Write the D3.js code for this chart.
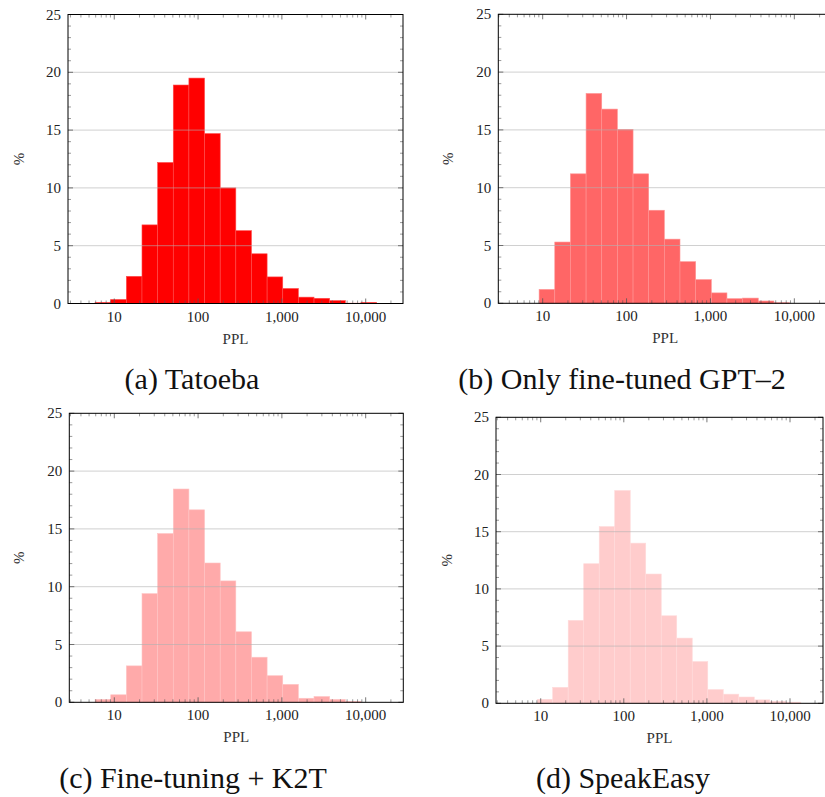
<!DOCTYPE html>
<html><head><meta charset="utf-8">
<script src="https://cdn.jsdelivr.net/npm/d3@7"></script>
<style>
html,body{margin:0;padding:0;background:#fff;}
text{font-family:"Liberation Serif","Times New Roman",serif;}
</style></head>
<body><svg id="c" width="825" height="797"></svg>
<script>
// Histogram bin edges (PPL, log-spaced)
const binEdges = [5.90, 9.07, 13.94, 21.42, 32.92, 50.58, 77.73, 119.5, 183.6, 282.1, 433.5, 666.2, 1024, 1573, 2418, 3715, 5710, 8774, 13485];
// Percent of sentences per bin
const tatoeba   = [0.1, 0.35, 2.35, 6.8, 12.2, 18.9, 19.5, 14.7, 10.0, 6.3, 4.3, 2.3, 1.3, 0.55, 0.45, 0.25, 0.03, 0.1];
const gpt2Only  = [0, 1.2, 5.3, 11.2, 18.15, 16.8, 15.05, 11.2, 8.05, 5.55, 3.6, 2.05, 0.9, 0.4, 0.45, 0.2, 0.05, 0];
const k2t       = [0.25, 0.65, 3.15, 9.4, 14.6, 18.45, 16.65, 12.05, 10.5, 6.1, 3.9, 2.3, 1.55, 0.35, 0.5, 0.25, 0.08, 0];
const speakEasy = [0, 0.35, 1.4, 7.25, 12.2, 15.45, 18.6, 14.0, 11.3, 7.65, 5.7, 3.65, 1.2, 0.8, 0.55, 0.3, 0.18, 0.1];
const xTicks = [10, 100, 1000, 10000];
const xTickLabels = ["10", "100", "1,000", "10,000"];
const yTicks = [0, 5, 10, 15, 20, 25];
const captions = ["(a) Tatoeba", "(b) Only fine-tuned GPT\u20132", "(c) Fine-tuning + K2T", "(d) SpeakEasy"];
const seriesList = [tatoeba, gpt2Only, k2t, speakEasy];
const colors = ["#ff0000", "#ff6666", "#ffaaaa", "#ffcccc"];

// layout
const panels = [
  {l:68,   r:403,   t:14.5,  b:303.5, lo:0.448, hi:4.445, capX:192, capY:389, labX:19},
  {l:498.3,r:832,   t:14.3,  b:303.3, lo:0.471, hi:4.449, capX:622, capY:389, labX:448},
  {l:69.3, r:403.3, t:413.3, b:702.3, lo:0.463, hi:4.449, capX:193, capY:788, labX:19},
  {l:496,  r:823,   t:417.3, b:703.3, lo:0.462, hi:4.397, capX:623, capY:788, labX:447}
];

const svg = d3.select("#c");

panels.forEach((p, i) => {
  const data = seriesList[i];
  const x = d3.scaleLog().domain([Math.pow(10,p.lo), Math.pow(10,p.hi)]).range([p.l, p.r]);
  const y = d3.scaleLinear().domain([0,25]).range([p.b, p.t]);
  const g = svg.append("g");
  const col = colors[i];
  const strokeCol = d3.interpolateRgb(col, "#ffffff")(0.3);

  const bins = data.map((v, k) => ({x0: binEdges[k], x1: binEdges[k+1], v}));
  g.selectAll("rect.bar").data(bins.filter(d => d.v > 0)).join("rect")
    .attr("x", d => x(d.x0))
    .attr("width", d => x(d.x1) - x(d.x0))
    .attr("y", d => y(d.v))
    .attr("height", d => y(0) - y(d.v))
    .attr("fill", col)
    .attr("stroke", strokeCol)
    .attr("stroke-width", 0.6);

  // grid
  g.selectAll("line.grid").data([5,10,15,20]).join("line")
    .attr("x1", p.l).attr("x2", p.r)
    .attr("y1", d => y(d)).attr("y2", d => y(d))
    .attr("stroke", "#b0b0b0").attr("stroke-opacity", 0.6).attr("stroke-width", 1);

  // minor / major ticks
  const xMinor = [];
  for (let e = 0; e <= 4; e++) for (let m = 2; m <= 9; m++) {
    const v = m * Math.pow(10, e);
    if (v > x.domain()[0] && v < x.domain()[1]) xMinor.push(v);
  }
  const tickCol = "#555";
  const drawXTicks = (vals, len, w) => {
    g.append("g").selectAll("line").data(vals).join("line")
      .attr("x1", d => x(d)).attr("x2", d => x(d))
      .attr("y1", p.b).attr("y2", p.b - len)
      .attr("stroke", tickCol).attr("stroke-width", w);
    g.append("g").selectAll("line").data(vals).join("line")
      .attr("x1", d => x(d)).attr("x2", d => x(d))
      .attr("y1", p.t).attr("y2", p.t + len)
      .attr("stroke", tickCol).attr("stroke-width", w);
  };
  drawXTicks(xMinor, 3, 0.6);
  drawXTicks(xTicks, 5, 0.8);

  const yMinor = d3.range(1, 25).filter(v => v % 5 !== 0);
  const drawYTicks = (vals, len, w) => {
    g.append("g").selectAll("line").data(vals).join("line")
      .attr("y1", d => y(d)).attr("y2", d => y(d))
      .attr("x1", p.l).attr("x2", p.l + len)
      .attr("stroke", tickCol).attr("stroke-width", w);
    g.append("g").selectAll("line").data(vals).join("line")
      .attr("y1", d => y(d)).attr("y2", d => y(d))
      .attr("x1", p.r).attr("x2", p.r - len)
      .attr("stroke", tickCol).attr("stroke-width", w);
  };
  drawYTicks(yMinor, 3, 0.6);
  drawYTicks(yTicks, 5, 0.8);

  // frame
  g.append("rect").attr("x", p.l).attr("y", p.t)
    .attr("width", p.r - p.l).attr("height", p.b - p.t)
    .attr("fill", "none").attr("stroke", "#000").attr("stroke-width", 1);

  // labels
  g.append("g").selectAll("text").data(xTicks).join("text")
    .attr("x", d => x(d)).attr("y", p.b + 18)
    .attr("text-anchor", "middle").attr("font-size", 15).attr("fill", "#222")
    .text((d, k) => xTickLabels[k]);
  g.append("g").selectAll("text").data(yTicks).join("text")
    .attr("x", p.l - 7).attr("y", d => y(d) + 5)
    .attr("text-anchor", "end").attr("font-size", 15).attr("fill", "#222")
    .text(d => d);
  g.append("text").attr("x", (p.l + p.r) / 2).attr("y", p.b + 40)
    .attr("text-anchor", "middle").attr("font-size", 15).attr("fill", "#333")
    .text("PPL");
  g.append("text")
    .attr("transform", `translate(${p.labX + 5},${(p.t + p.b) / 2}) rotate(-90)`)
    .attr("text-anchor", "middle").attr("font-size", 15).attr("fill", "#333")
    .text("%");
  g.append("text").attr("x", p.capX).attr("y", p.capY)
    .attr("text-anchor", "middle").attr("font-size", 30).attr("fill", "#111")
    .text(captions[i]);
});
</script></body></html>
